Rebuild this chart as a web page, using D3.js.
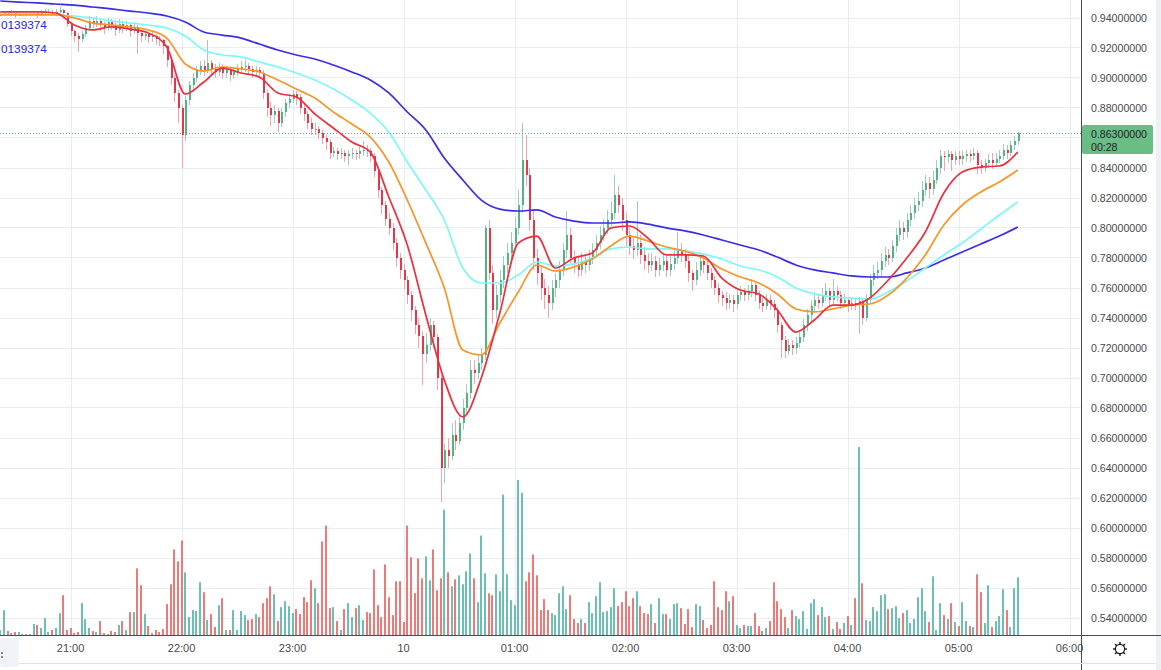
<!DOCTYPE html>
<html>
<head>
<meta charset="utf-8">
<script src="https://cdn.jsdelivr.net/npm/d3@7.9.0/dist/d3.min.js"></script>
<style>
  body { margin: 0; background: #fff; }
  svg { display: block; font-family: "Liberation Sans", Arial, sans-serif; }
</style>
</head>
<body>
<svg id="chart" width="1161" height="670"></svg>
<script>
// 2-minute candles starting 20:22
const firstOpen = .942;
const closes = [
  .942,.943,.942,.943,.942,.942,.943,.942,.943,.943, .942,.943,.944,.944,.943,.944,.945,.943,.936,.931,
  .928,.926,.929,.933,.938,.936,.938,.935,.933,.937, .935,.932,.936,.933,.935,.931,.934,.930,.928,.929,
  .927,.928,.926,.925,.921,.912,.900,.890,.880,.862, .885,.895,.900,.905,.908,.905,.910,.906,.904,.907,
  .903,.905,.902,.904,.906,.907,.908,.906,.904,.905, .903,.890,.880,.875,.878,.870,.877,.883,.886,.889,
  .887,.880,.876,.870,.866,.866,.863,.860,.857,.850, .851,.849,.850,.848,.849,.850,.849,.851,.852,.851,
  .848,.838,.825,.815,.806,.800,.790,.780,.772,.765, .755,.745,.735,.728,.716,.722,.735,.727,.700,.640,
  .652,.648,.662,.658,.670,.680,.690,.705,.703,.710, .715,.800,.770,.745,.755,.765,.775,.783,.790,.800,
  .815,.845,.835,.805,.780,.770,.760,.755,.750,.760, .765,.772,.785,.795,.780,.776,.772,.778,.775,.780,
  .785,.790,.795,.800,.805,.810,.822,.815,.805,.795, .788,.785,.790,.782,.778,.775,.778,.772,.775,.778,
  .772,.776,.780,.785,.782,.778,.770,.765,.772,.778, .775,.770,.765,.760,.755,.753,.750,.752,.749,.755,
  .757,.755,.758,.762,.755,.750,.748,.752,.749,.745, .735,.725,.718,.722,.720,.723,.727,.735,.742,.748,
  .752,.750,.755,.758,.752,.758,.755,.750,.752,.748, .750,.749,.751,.740,.752,.765,.770,.772,.778,.782,
  .780,.788,.795,.800,.797,.805,.810,.815,.818,.825, .830,.826,.832,.840,.848,.847,.849,.845,.848,.846,
  .848,.849,.848,.850,.842,.840,.843,.845,.843,.846, .848,.852,.850,.855,.858,.863
];
const highs = [
  .944,.944,.944,.945,.944,.943,.944,.944,.944,.944, .944,.945,.946,.946,.945,.946,.947,.946,.944,.937,
  .932,.930,.931,.935,.941,.940,.941,.939,.937,.940, .939,.937,.939,.938,.938,.936,.937,.935,.932,.931,
  .930,.931,.929,.928,.926,.922,.914,.902,.892,.882, .888,.898,.903,.908,.911,.912,.925,.912,.909,.910,
  .909,.908,.907,.907,.909,.911,.912,.910,.908,.908, .907,.905,.892,.884,.882,.880,.880,.886,.889,.892,
  .891,.889,.883,.878,.873,.870,.868,.865,.862,.859, .854,.853,.853,.852,.852,.853,.852,.855,.858,.855,
  .853,.850,.840,.827,.818,.810,.803,.793,.783,.776, .768,.758,.748,.740,.731,.730,.740,.738,.729,.702,
  .656,.660,.670,.672,.676,.686,.696,.712,.712,.716, .720,.802,.805,.775,.762,.772,.781,.790,.797,.807,
  .825,.870,.862,.840,.812,.786,.775,.766,.761,.765, .770,.778,.790,.811,.800,.785,.781,.783,.782,.785,
  .790,.795,.801,.806,.812,.818,.835,.828,.820,.810, .800,.793,.818,.795,.787,.783,.783,.781,.780,.783,
  .781,.781,.786,.797,.790,.786,.781,.772,.777,.783, .782,.778,.773,.768,.763,.758,.757,.756,.755,.759,
  .761,.760,.762,.766,.764,.758,.753,.756,.755,.752, .747,.737,.728,.726,.725,.727,.731,.739,.746,.752,
  .757,.756,.760,.763,.760,.766,.761,.758,.756,.754, .754,.753,.754,.753,.756,.769,.775,.777,.783,.787,
  .786,.792,.800,.805,.804,.810,.815,.820,.824,.831, .835,.834,.838,.845,.852,.851,.852,.851,.851,.851,
  .851,.852,.852,.853,.852,.845,.846,.849,.850,.850, .852,.856,.855,.858,.861,.864
];
const lows = [
  .941,.941,.941,.941,.940,.941,.941,.941,.941,.942, .940,.941,.942,.943,.942,.942,.943,.941,.934,.928,
  .924,.917,.924,.927,.932,.933,.934,.931,.929,.931, .932,.928,.930,.930,.931,.927,.929,.916,.924,.925,
  .923,.924,.922,.921,.916,.907,.895,.884,.870,.840, .858,.882,.892,.897,.902,.901,.903,.902,.900,.901,
  .899,.900,.898,.899,.901,.903,.904,.902,.900,.901, .899,.886,.874,.868,.870,.864,.867,.874,.880,.883,
  .882,.876,.871,.866,.862,.862,.859,.856,.852,.846, .847,.845,.846,.844,.842,.846,.845,.846,.848,.847,
  .844,.834,.820,.809,.801,.795,.785,.774,.766,.759, .749,.738,.729,.720,.695,.710,.718,.720,.692,.617,
  .630,.640,.645,.652,.655,.665,.676,.686,.696,.699, .705,.712,.765,.736,.740,.750,.760,.770,.778,.785,
  .795,.810,.828,.798,.772,.762,.752,.746,.740,.745, .754,.760,.768,.780,.775,.770,.767,.768,.770,.771,
  .776,.781,.786,.791,.796,.801,.806,.810,.798,.788, .782,.779,.781,.776,.772,.770,.771,.767,.768,.771,
  .767,.768,.772,.776,.777,.773,.764,.758,.762,.768, .770,.765,.760,.755,.750,.748,.745,.746,.744,.746,
  .751,.751,.752,.754,.751,.746,.744,.745,.745,.740, .730,.713,.713,.715,.715,.716,.720,.724,.731,.738,
  .744,.746,.747,.751,.748,.749,.751,.746,.747,.744, .745,.745,.729,.735,.738,.749,.761,.766,.768,.774,
  .775,.777,.784,.791,.792,.793,.801,.806,.811,.814, .821,.820,.822,.829,.836,.838,.843,.838,.842,.842,
  .842,.844,.844,.845,.836,.836,.837,.840,.839,.841, .843,.845,.846,.848,.852,.855
];
const volumes = [
  5,25,4,2,3,3,1,1,1,11, 10,7,17,3,5,7,22,40,5,7, 2,3,32,16,7,4,3,14,2,1, 4,3,10,14,5,23,23,67,50,21,
  9,2,5,3,6,31,51,86,74,95, 63,18,25,24,53,43,15,21,8,30, 37,5,5,25,5,24,20,15,16,21, 18,32,37,49,41,14,28,34,29,22,
  26,21,38,33,55,47,32,94,110,27, 28,14,5,26,32,18,27,30,15,23, 22,66,30,18,71,38,20,54,54,13,
  110,78,42,77,57,79,55,86,45,57, 126,63,49,56,60,51,64,82,57,33, 100,62,42,40,61,44,141,61,35,30,
  156,143,54,63,81,60,25,36,25,22, 20,42,49,26,40,16,12,16,12,33, 22,39,53,23,24,28,47,29,33,44,
  29,37,44,29,22,21,31,12,37,21, 21,16,31,32,27,11,26,8,31,29, 15,7,10,54,28,25,44,34,39,10,
  7,10,9,9,22,9,4,7,14,53, 34,26,18,7,25,19,16,24,6,32, 36,20,28,18,19,6,13,6,12,19,
  10,37,189,52,15,14,28,24,40,41, 26,27,29,17,22,25,12,16,38,47, 24,13,59,5,32,20,16,32,13,9,
  33,14,9,8,61,43,12,50,8,14, 19,46,25,8,47,58
];

// moving averages, one reading every 5 candles (10 minutes)
const maStep = 5;
const maRed = [
  .9437,.9437,.9437,.9430,.9350,.9317,.9337,.9323,.9297,.9203, .8890,.8970,.9063,.9030,.9003,.8897,.8870,.8757,.8663,.8570,
  .8503,.8203,.7883,.7417,.6983,.6737,.6997,.7430,.7897,.7943, .7730,.7797,.7830,.7997,.8010,.7930,.7817,.7817,.7810,.7663,
  .7583,.7557,.7450,.7303,.7383,.7483,.7483,.7530,.7650,.7797, .7970,.8230,.8370,.8403,.8410,.8503
];
const maOrange = [
  .9417,.9417,.9417,.9417,.9397,.9363,.9350,.9337,.9317,.9263, .9090,.9043,.9070,.9057,.9037,.8983,.8923,.8863,.8770,.8690,
  .8603,.8437,.8183,.7897,.7597,.7183,.7150,.7363,.7570,.7750, .7710,.7737,.7790,.7877,.7943,.7910,.7870,.7843,.7797,.7723,
  .7670,.7630,.7557,.7457,.7437,.7457,.7483,.7490,.7550,.7663, .7817,.8017,.8150,.8237,.8303,.8383
];
const maCyan = [
  .9430,.9430,.9423,.9417,.9410,.9397,.9377,.9363,.9350,.9330, .9277,.9183,.9150,.9137,.9103,.9070,.9030,.8983,.8923,.8850,
  .8763,.8637,.8437,.8250,.8050,.7730,.7630,.7630,.7683,.7770, .7743,.7757,.7797,.7857,.7870,.7857,.7857,.7843,.7823,.7790,
  .7743,.7717,.7670,.7597,.7557,.7537,.7530,.7523,.7570,.7643, .7730,.7817,.7897,.7990,.8083,.8170
];
const maBlue = [
  .9510,.9503,.9497,.9490,.9483,.9470,.9457,.9443,.9430,.9410, .9370,.9303,.9283,.9263,.9223,.9183,.9150,.9123,.9083,.9037,
  .8983,.8897,.8770,.8650,.8463,.8317,.8183,.8123,.8110,.8117, .8070,.8043,.8030,.8030,.8037,.8023,.7997,.7977,.7950,.7917,
  .7883,.7850,.7803,.7750,.7717,.7697,.7677,.7670,.7670,.7697, .7730,.7783,.7837,.7890,.7943,.8003
];

const priceTicks = [0.54,0.56,0.58,0.60,0.62,0.64,0.66,0.68,0.70,0.72,0.74,0.76,0.78,0.80,0.82,0.84,0.86,0.88,0.90,0.92,0.94];
const timeTickLabels = ['21:00','22:00','23:00','10','01:00','02:00','03:00','04:00','05:00','06:00'];
const lastPrice = 0.863;
const countdown = '00:28';
const legendTexts = ['0139374', '0139374'];

const start = new Date(2020, 0, 9, 20, 22);
const candleMinutes = 2;
const timeOf = i => d3.timeMinute.offset(start, i * candleMinutes);

const W = 1161, H = 670;
const axisX = 1081, axisY = 635;

const x = d3.scaleTime()
  .domain([new Date(2020, 0, 9, 21, 0), new Date(2020, 0, 10, 6, 0)])
  .range([70.6, 1069.6]);
const y = d3.scaleLinear().domain([0.54, 0.94]).range([617.5, 17.5]);
const yVol = d3.scaleLinear().domain([0, 190]).range([axisY, 446]);

const candles = closes.map((c, i) => ({
  t: timeOf(i),
  o: i === 0 ? firstOpen : closes[i - 1],
  h: highs[i], l: lows[i], c: c, v: volumes[i]
}));

const svg = d3.select('#chart');

// grid
const grid = svg.append('g').attr('stroke', '#e6edf3').attr('stroke-width', 1).attr('shape-rendering', 'crispEdges');
grid.selectAll('line.h').data(priceTicks).enter().append('line')
  .attr('x1', 0).attr('x2', axisX)
  .attr('y1', d => Math.round(y(d)) + 0.5).attr('y2', d => Math.round(y(d)) + 0.5);
const hourTicks = d3.timeHour.range(new Date(2020, 0, 9, 21, 0), new Date(2020, 0, 10, 6, 1));
grid.selectAll('line.v').data(hourTicks).enter().append('line')
  .attr('y1', 0).attr('y2', axisY)
  .attr('x1', d => Math.round(x(d)) + 0.5).attr('x2', d => Math.round(x(d)) + 0.5);

// volume
svg.append('g').selectAll('rect').data(candles).enter().append('rect')
  .attr('x', d => Math.round(x(d.t)) - 1)
  .attr('width', 2)
  .attr('y', d => yVol(d.v))
  .attr('height', d => axisY - yVol(d.v))
  .attr('fill', d => d.c >= d.o ? '#6cbfb3' : '#ec7a79');

// candles
const cg = svg.append('g').attr('shape-rendering', 'crispEdges');
cg.selectAll('line').data(candles).enter().append('line')
  .attr('x1', d => Math.round(x(d.t)) + 0.5).attr('x2', d => Math.round(x(d.t)) + 0.5)
  .attr('y1', d => y(d.h)).attr('y2', d => y(d.l))
  .attr('stroke', d => d.c >= d.o ? '#a3c9c2' : '#f2a3ab').attr('stroke-width', 1);
cg.selectAll('rect').data(candles).enter().append('rect')
  .attr('x', d => Math.round(x(d.t)))
  .attr('width', 2)
  .attr('y', d => y(Math.max(d.o, d.c)))
  .attr('height', d => Math.max(1, Math.abs(y(d.o) - y(d.c))))
  .attr('fill', d => d.c >= d.o ? '#53b47f' : '#e3384a');

// moving averages
const maLine = d3.line()
  .x((d, k) => x(timeOf(k * maStep)))
  .y(d => y(d))
  .curve(d3.curveMonotoneX);
[[maBlue, '#3b2de6'], [maCyan, '#7ff6fb'], [maOrange, '#f7962a'], [maRed, '#ec2f3c']].forEach(([data, color]) => {
  svg.append('path').datum(data)
    .attr('d', maLine)
    .attr('fill', 'none')
    .attr('stroke', color)
    .attr('stroke-width', 1.7)
    .attr('stroke-linejoin', 'round');
});

// last price dotted line
svg.append('line')
  .attr('x1', 0).attr('x2', axisX)
  .attr('y1', Math.round(y(lastPrice)) + 0.5).attr('y2', Math.round(y(lastPrice)) + 0.5)
  .attr('stroke', '#5fb07d').attr('stroke-dasharray', '1,2');

// legend values cut off at the left edge
svg.selectAll('text.legend').data(legendTexts).enter().append('text')
  .attr('x', 1).attr('y', (d, k) => 28.5 + k * 24)
  .attr('font-size', 11.8).attr('fill', '#2626e6')
  .text(d => d);

// right price axis
svg.append('rect').attr('x', axisX).attr('y', 0).attr('width', W - axisX).attr('height', H).attr('fill', '#fff');
svg.append('rect').attr('x', 1156).attr('y', 0).attr('width', 5).attr('height', H).attr('fill', '#eef0f4');
svg.append('g').selectAll('text').data(priceTicks.filter(p => Math.abs(p - 0.86) > 1e-6)).enter().append('text')
  .attr('x', 1091).attr('y', d => y(d) + 4)
  .attr('font-size', 10.6).attr('fill', '#4a4a4a')
  .text(d => d.toFixed(8));

// time axis
svg.append('rect').attr('x', 0).attr('y', axisY).attr('width', axisX).attr('height', H - axisY).attr('fill', '#fff');
svg.append('g').selectAll('text').data(hourTicks).enter().append('text')
  .attr('x', d => x(d)).attr('y', 652)
  .attr('text-anchor', 'middle')
  .attr('font-size', 11).attr('fill', '#4a4a4a')
  .text((d, k) => timeTickLabels[k]);

// axis lines
svg.append('line').attr('x1', 0).attr('x2', W).attr('y1', axisY + 0.5).attr('y2', axisY + 0.5)
  .attr('stroke', '#4d4d4d').attr('stroke-width', 1);
svg.append('line').attr('x1', axisX + 0.5).attr('x2', axisX + 0.5).attr('y1', 0).attr('y2', H)
  .attr('stroke', '#4d4d4d').attr('stroke-width', 1);
svg.append('line').attr('x1', 0).attr('x2', 1156).attr('y1', 663.5).attr('y2', 663.5)
  .attr('stroke', '#e0e3eb');

// left corner button stub
svg.append('rect').attr('x', 0).attr('y', 638).attr('width', 19).attr('height', 29).attr('rx', 3).attr('fill', '#f0f3f8');
svg.append('circle').attr('cx', 2).attr('cy', 653).attr('r', 0.9).attr('fill', '#555');
svg.append('circle').attr('cx', 2).attr('cy', 657).attr('r', 0.9).attr('fill', '#555');

// last price label
const ly = y(lastPrice);
svg.append('rect').attr('x', axisX + 1).attr('y', ly - 8).attr('width', 71).attr('height', 29).attr('rx', 2).attr('fill', '#6bbd86');
svg.append('text').attr('x', 1091).attr('y', ly + 4.5).attr('font-size', 10.6).attr('fill', '#1f2326').text(lastPrice.toFixed(8));
svg.append('text').attr('x', 1091).attr('y', ly + 17.5).attr('font-size', 10.6).attr('fill', '#1f2326').text(countdown);

// settings icon
const gear = svg.append('g').attr('transform', 'translate(1120,649)').attr('stroke', '#131722').attr('fill', 'none');
gear.append('circle').attr('r', 4.6).attr('stroke-width', 1.2);
d3.range(8).forEach(k => {
  const a = k * Math.PI / 4;
  gear.append('line')
    .attr('x1', Math.cos(a) * 4.6).attr('y1', Math.sin(a) * 4.6)
    .attr('x2', Math.cos(a) * 7).attr('y2', Math.sin(a) * 7)
    .attr('stroke-width', 1.4);
});
</script>
</body>
</html>
